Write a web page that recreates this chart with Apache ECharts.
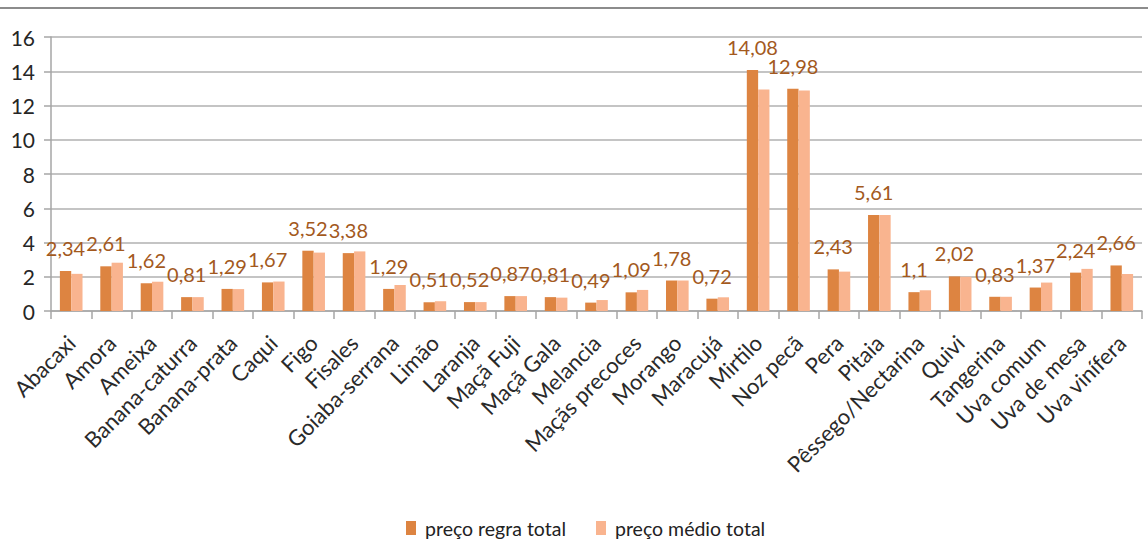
<!DOCTYPE html>
<html>
<head>
<meta charset="utf-8">
<script src="https://cdn.jsdelivr.net/npm/echarts@6/dist/echarts.min.js"></script>
<style>
  html, body { margin: 0; padding: 0; background: #fff; }
  #chart { width: 1148px; height: 543px; }
</style>
</head>
<body>
<div id="chart"></div>
<script>
var categories = ['Abacaxi', 'Amora', 'Ameixa', 'Banana-caturra', 'Banana-prata', 'Caqui', 'Figo', 'Fisales',
  'Goiaba-serrana', 'Limão', 'Laranja', 'Maçã Fuji', 'Maçã Gala', 'Melancia', 'Maçãs precoces', 'Morango',
  'Maracujá', 'Mirtilo', 'Noz pecã', 'Pera', 'Pitaia', 'Pêssego/Nectarina', 'Quivi', 'Tangerina',
  'Uva comum', 'Uva de mesa', 'Uva vinífera'];
var precoRegra = [2.34, 2.61, 1.62, 0.81, 1.29, 1.67, 3.52, 3.38, 1.29, 0.51, 0.52, 0.87, 0.81, 0.49, 1.09, 1.78,
  0.72, 14.08, 12.98, 2.43, 5.61, 1.1, 2.02, 0.83, 1.37, 2.24, 2.66];
var precoMedio = [2.17, 2.82, 1.71, 0.81, 1.28, 1.72, 3.41, 3.48, 1.52, 0.57, 0.52, 0.87, 0.78, 0.64, 1.23, 1.78,
  0.8, 12.93, 12.88, 2.3, 5.61, 1.21, 2.0, 0.83, 1.66, 2.46, 2.16];
var yTicks = { min: 0, max: 16, interval: 2 };

var font = 'Lato, "Open Sans", sans-serif';
var chart = echarts.init(document.getElementById('chart'), null, { renderer: 'svg' });
chart.setOption({
  animation: false,
  textStyle: { fontFamily: font },
  graphic: [{
    type: 'line', shape: { x1: 0, y1: 8, x2: 1148, y2: 8 },
    style: { stroke: '#8c8c8c', lineWidth: 2 }
  }],
  legend: {
    bottom: 0, left: 401, icon: 'rect', itemWidth: 10, itemHeight: 14, itemGap: 30,
    textStyle: { color: '#222', fontSize: 19.5, fontFamily: font, padding: [0, 0, 0, 4] }
  },
  grid: { left: 51, right: 6, top: 37, bottom: 232, containLabel: false },
  xAxis: {
    type: 'category', data: categories,
    axisLine: { lineStyle: { color: '#a6a6a6', width: 1.5 } },
    axisTick: { show: true, length: 8, lineStyle: { color: '#a6a6a6', width: 1.5 } },
    axisLabel: { interval: 0, rotate: 45, color: '#2a2a2a', fontSize: 22, margin: 28, fontFamily: font }
  },
  yAxis: {
    type: 'value', min: yTicks.min, max: yTicks.max, interval: yTicks.interval,
    axisLine: { show: true, lineStyle: { color: '#a6a6a6', width: 1.5 } },
    axisTick: { show: true, length: 7, lineStyle: { color: '#a6a6a6', width: 1.5 } },
    axisLabel: { color: '#262626', fontSize: 21, margin: 16, fontFamily: font },
    splitLine: { lineStyle: { color: '#b0b0b0', width: 1.5 } }
  },
  series: [
    {
      name: 'preço regra total', type: 'bar', data: precoRegra,
      barWidth: '28%', barGap: '0%',
      itemStyle: { color: '#dd8441' },
      label: {
        show: true, position: 'top', distance: 13, color: '#a3591d', fontSize: 20, fontFamily: font,
        formatter: function (p) { return String(p.value).replace('.', ','); }
      }
    },
    {
      name: 'preço médio total', type: 'bar', data: precoMedio,
      barWidth: '28%', barGap: '0%',
      itemStyle: { color: '#f9b48f' }
    }
  ]
});
</script>
</body>
</html>
